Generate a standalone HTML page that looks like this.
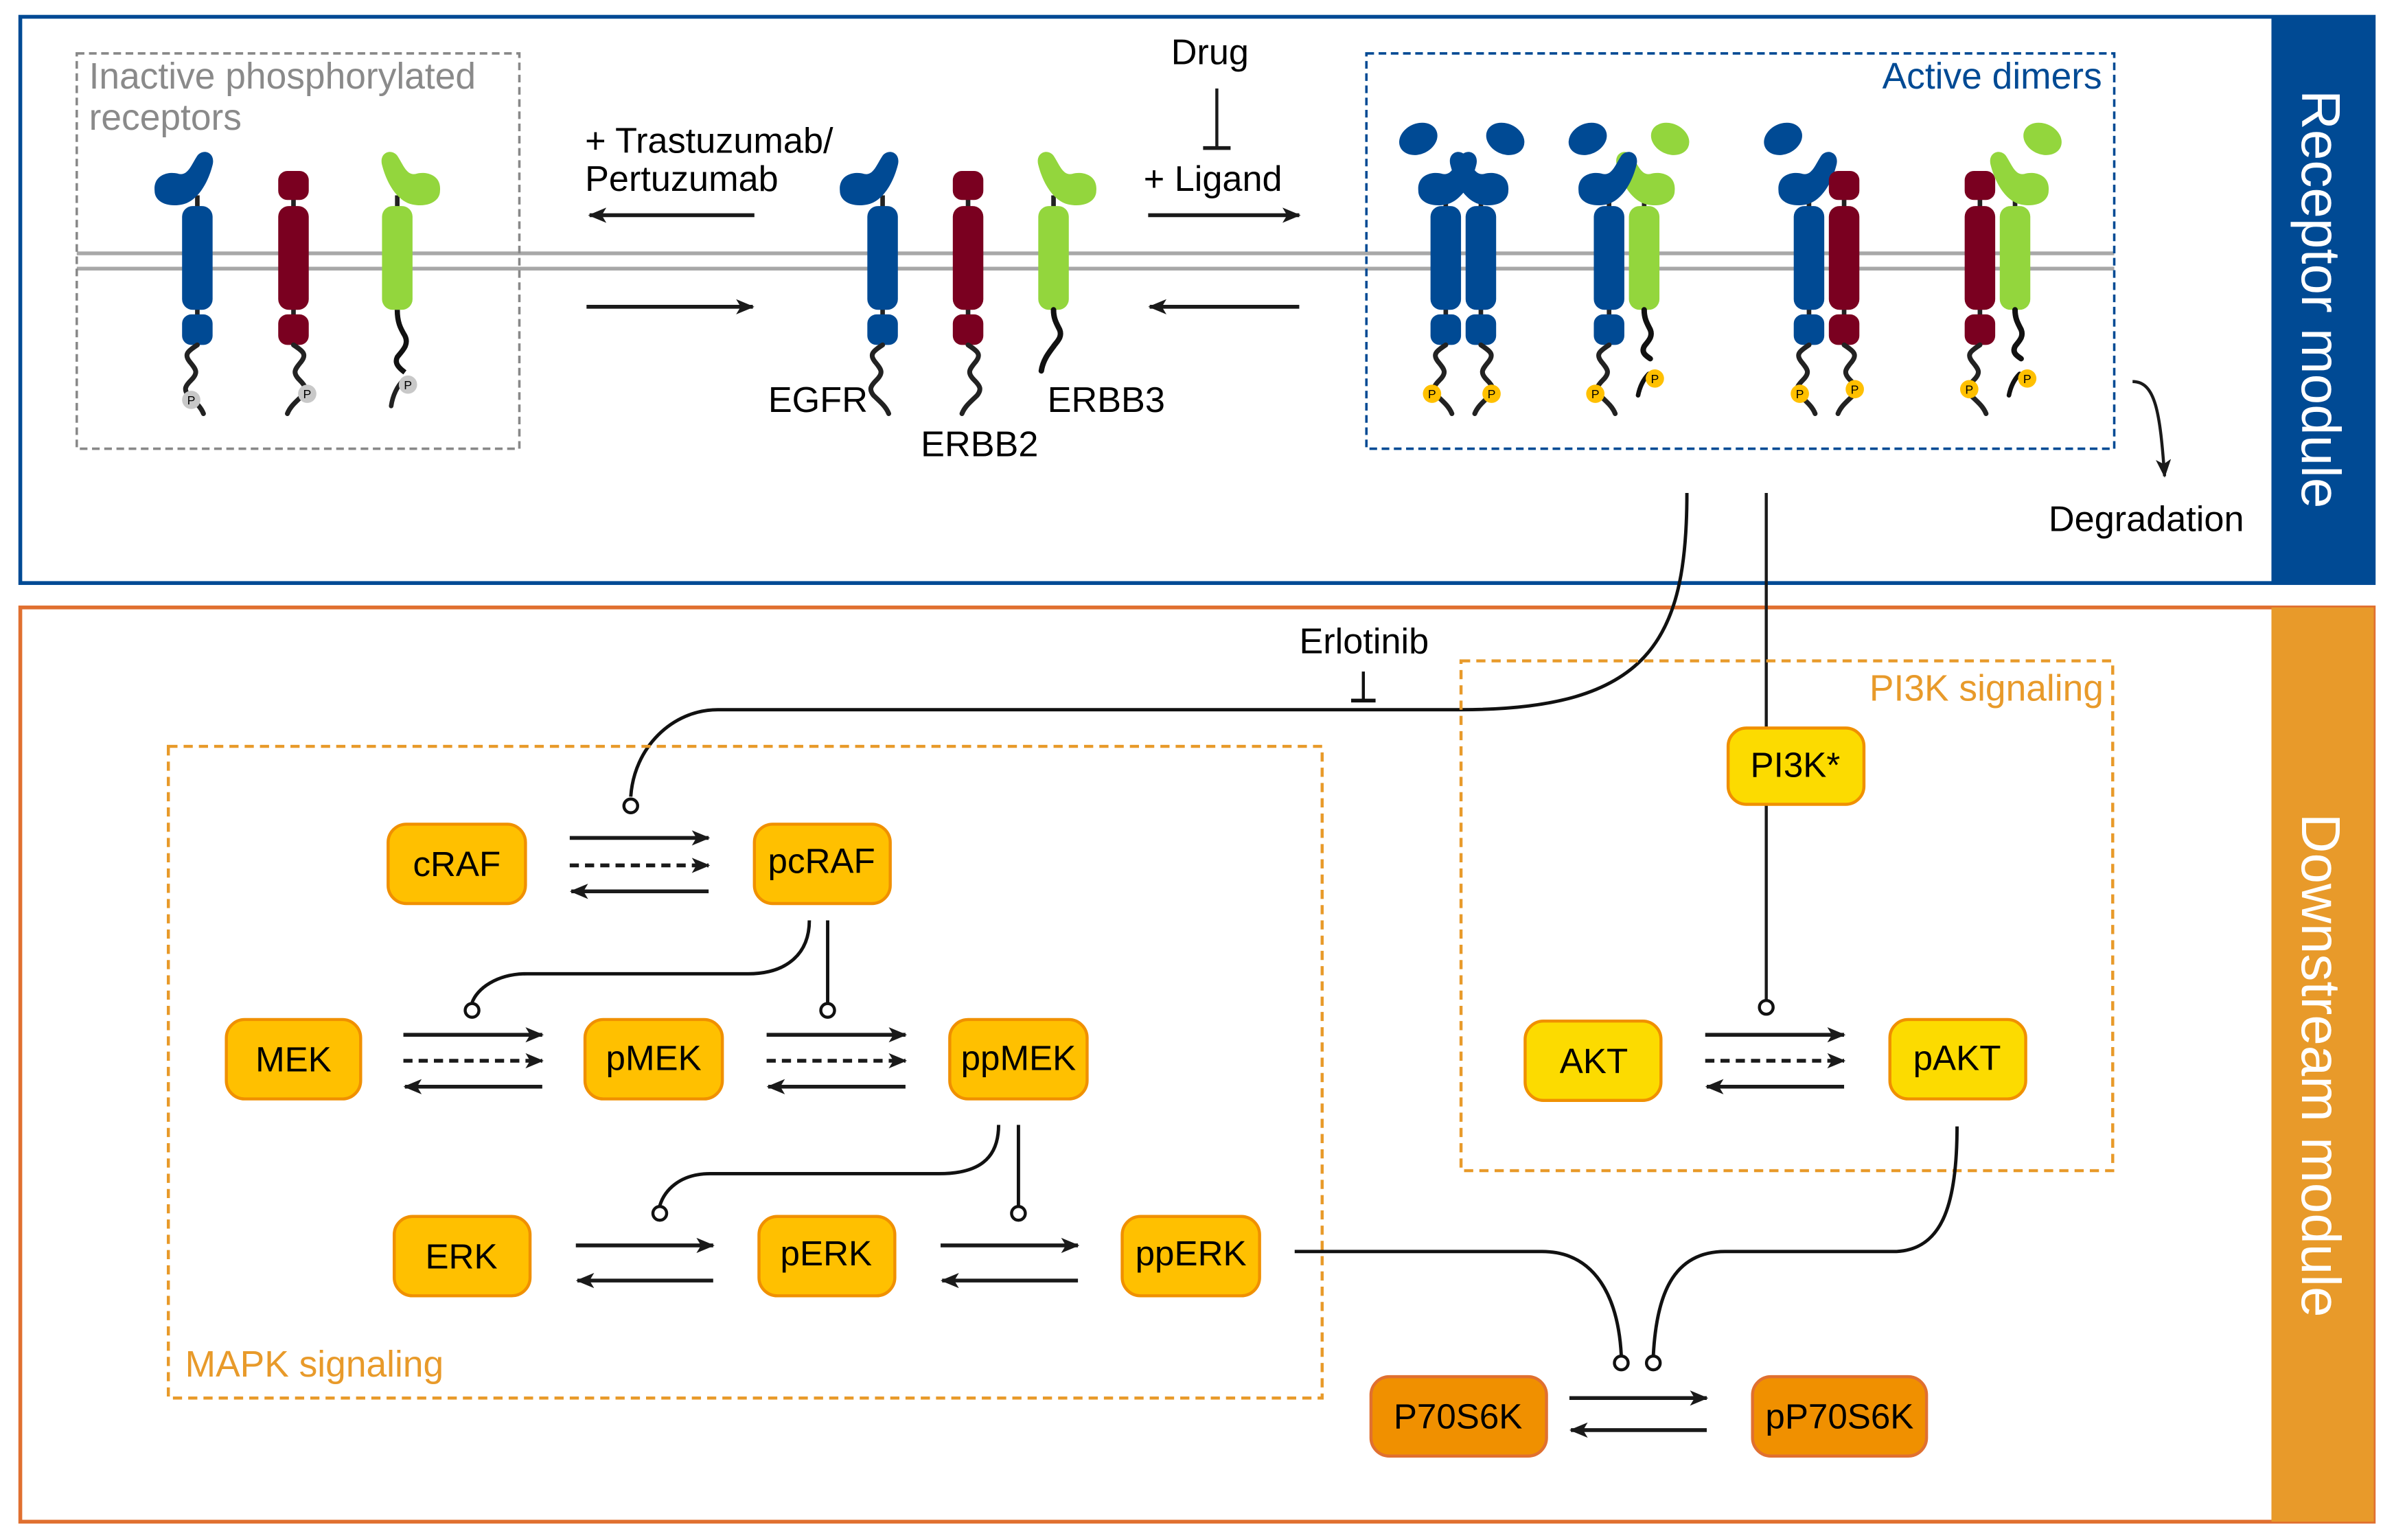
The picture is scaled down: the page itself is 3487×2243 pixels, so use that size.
<!DOCTYPE html>
<html><head><meta charset="utf-8"><style>
html,body{margin:0;padding:0;background:#fff;}
svg{display:block;}
text{font-family:"Liberation Sans",Arial,sans-serif;}
</style></head><body>
<svg width="3487" height="2243" viewBox="0 0 1568 1009" xmlns="http://www.w3.org/2000/svg">
<defs>
<marker id="ah" viewBox="0 0 12 10" refX="11" refY="5" markerWidth="12" markerHeight="10" markerUnits="userSpaceOnUse" orient="auto">
<path d="M0,0 L12,5 L0,10 L3,5 Z" fill="#1a1a1a"/></marker>
<path id="hookL" d="M-28,125 C-29,114 -18,112 -12,114 C-6,115 -4,108 0,102 C4,97 12,100 10,108 C7,120 0,132 -10,134 C-20,136 -28,132 -28,125 Z"/>
<path id="hookR" transform="scale(-1,1)" d="M-28,125 C-29,114 -18,112 -12,114 C-6,115 -4,108 0,102 C4,97 12,100 10,108 C7,120 0,132 -10,134 C-20,136 -28,132 -28,125 Z"/>
<g id="egfr">
 <line x1="0" y1="128" x2="0" y2="208" stroke="#222" stroke-width="3"/>
 <rect x="-10" y="135" width="20" height="68" rx="7" fill="#004a94"/>
 <rect x="-10" y="206" width="20" height="20" rx="6" fill="#004a94"/>
</g>
<g id="erbb2">
 <line x1="0" y1="125" x2="0" y2="208" stroke="#222" stroke-width="3"/>
 <rect x="-10" y="112" width="20" height="19" rx="6" fill="#7a0020"/>
 <rect x="-10" y="135" width="20" height="68" rx="7" fill="#7a0020"/>
 <rect x="-10" y="206" width="20" height="20" rx="6" fill="#7a0020"/>
</g>
<g id="erbb3">
 <line x1="0" y1="128" x2="0" y2="140" stroke="#222" stroke-width="3"/>
 <rect x="-10" y="135" width="20" height="68" rx="7" fill="#93d63d"/>
</g>
<path id="tailA" d="M0,226 c-6,4 -9,6 -5,11 c4,5 6,7 1,12 c-4,4 -5,6 -2,10 c4,4 8,7 10,12" fill="none" stroke="#222" stroke-width="3.2" stroke-linecap="round"/>
<path id="tailB" d="M0,226 c6,4 9,6 5,11 c-4,5 -6,7 -1,12 c4,4 5,6 2,10 c-4,4 -8,7 -10,12" fill="none" stroke="#222" stroke-width="3.2" stroke-linecap="round"/>
<path id="tail3" d="M0,203 c0,6 2,9 4,13 c2,5 -2,8 -4,11 c-2,4 1,6 4,8" fill="none" stroke="#111" stroke-width="3.6" stroke-linecap="round"/>
<path id="tail3m" d="M0,203 c0,6 2,9 4,13 c2,5 -2,8 -4,11 c-3,4 -7,9 -8,16" fill="none" stroke="#111" stroke-width="3.6" stroke-linecap="round"/>
</defs>

<!-- Receptor module -->
<rect x="13" y="11" width="1542" height="371" fill="#fff" stroke="#004a94" stroke-width="2.5"/>
<rect x="1488" y="11" width="67" height="371" fill="#004a94"/>
<text transform="translate(1508,196) rotate(90)" text-anchor="middle" font-size="36" fill="#fff">Receptor module</text>

<!-- Downstream module -->
<rect x="13" y="398" width="1542" height="599" fill="#fff" stroke="#e07030" stroke-width="2.5"/>
<rect x="1488" y="398" width="67" height="599" fill="#e89a2a"/>
<text transform="translate(1508,698) rotate(90)" text-anchor="middle" font-size="36" fill="#fff">Downstream module</text>

<!-- membrane -->
<line x1="50" y1="166" x2="1385" y2="166" stroke="#a8a8a8" stroke-width="2.5"/>
<line x1="50" y1="176" x2="1385" y2="176" stroke="#a8a8a8" stroke-width="2.5"/>

<!-- Inactive box -->
<rect x="50" y="35" width="290" height="259" fill="none" stroke="#888" stroke-width="1.6" stroke-dasharray="5,3"/>
<text x="58" y="58" font-size="24" fill="#8a8a8a">Inactive phosphorylated</text>
<text x="58" y="85" font-size="24" fill="#8a8a8a">receptors</text>

<g transform="translate(129,0)">
 <use href="#egfr"/><use href="#hookL" fill="#004a94"/><use href="#tailA"/>
 <circle cx="-4" cy="262" r="6" fill="#c8c8c8"/><text x="-4" y="265" font-size="8" text-anchor="middle">P</text>
</g>
<g transform="translate(192,0)">
 <use href="#erbb2"/><use href="#tailB"/>
 <circle cx="9" cy="258" r="6" fill="#c8c8c8"/><text x="9" y="261" font-size="8" text-anchor="middle">P</text>
</g>
<g transform="translate(260,0)">
 <use href="#erbb3"/><use href="#hookR" fill="#93d63d"/>
 <path d="M0,203 c0,8 2,12 5,17 c3,6 -2,10 -5,14 c-2,4 1,7 5,10" fill="none" stroke="#111" stroke-width="3.4"/>
 <path d="M4,249 c-4,4 -7,10 -8,17" fill="none" stroke="#222" stroke-width="3" stroke-linecap="round"/>
 <circle cx="7" cy="252" r="6" fill="#c8c8c8"/><text x="7" y="255" font-size="8" text-anchor="middle">P</text>
</g>

<!-- middle receptors -->
<g transform="translate(578,0)"><use href="#egfr"/><use href="#hookL" fill="#004a94"/><use href="#tailA"/></g>
<g transform="translate(634,0)"><use href="#erbb2"/><use href="#tailB"/></g>
<g transform="translate(690,0)"><use href="#erbb3"/><use href="#hookR" fill="#93d63d"/><use href="#tail3m"/></g>
<text x="503" y="270" font-size="23.5">EGFR</text>
<text x="603" y="299" font-size="23.5">ERBB2</text>
<text x="686" y="270" font-size="23.5">ERBB3</text>

<!-- arrows top -->
<text x="383" y="100" font-size="23.5">+ Trastuzumab/</text>
<text x="383" y="125" font-size="23.5">Pertuzumab</text>
<line x1="494" y1="141" x2="386" y2="141" stroke="#1a1a1a" stroke-width="2.5" marker-end="url(#ah)"/>
<line x1="384" y1="201" x2="493" y2="201" stroke="#1a1a1a" stroke-width="2.5" marker-end="url(#ah)"/>
<text x="767" y="42" font-size="23.5">Drug</text>
<line x1="797" y1="58" x2="797" y2="96" stroke="#1a1a1a" stroke-width="2"/>
<line x1="788" y1="97" x2="806" y2="97" stroke="#1a1a1a" stroke-width="2.5"/>
<text x="749" y="125" font-size="23.5">+ Ligand</text>
<line x1="752" y1="141" x2="851" y2="141" stroke="#1a1a1a" stroke-width="2.5" marker-end="url(#ah)"/>
<line x1="851" y1="201" x2="753" y2="201" stroke="#1a1a1a" stroke-width="2.5" marker-end="url(#ah)"/>

<!-- Active dimers -->
<rect x="895" y="35" width="490" height="259" fill="none" stroke="#004a94" stroke-width="1.6" stroke-dasharray="5,3"/>
<text x="1377" y="58" font-size="24" fill="#004a94" text-anchor="end">Active dimers</text>

<!-- dimer 1 EGFR/EGFR -->
<ellipse cx="929" cy="91" rx="13" ry="10" transform="rotate(-25 929 91)" fill="#004a94"/>
<ellipse cx="986" cy="91" rx="13" ry="10" transform="rotate(25 986 91)" fill="#004a94"/>
<g transform="translate(947,0)"><use href="#egfr"/><use href="#hookL" fill="#004a94" transform="translate(10,0)"/><use href="#tailA"/>
 <circle cx="-9" cy="258" r="6" fill="#ffc000"/><text x="-9" y="261" font-size="8" text-anchor="middle">P</text></g>
<g transform="translate(970,0)"><use href="#egfr"/><use href="#hookR" fill="#004a94" transform="translate(-10,0)"/><use href="#tailB"/>
 <circle cx="7" cy="258" r="6" fill="#ffc000"/><text x="7" y="261" font-size="8" text-anchor="middle">P</text></g>

<!-- dimer 2 EGFR/ERBB3 -->
<ellipse cx="1040" cy="91" rx="13" ry="10" transform="rotate(-25 1040 91)" fill="#004a94"/>
<ellipse cx="1094" cy="91" rx="13" ry="10" transform="rotate(25 1094 91)" fill="#93d63d"/>
<g transform="translate(1077,0)"><use href="#erbb3"/><use href="#hookR" fill="#93d63d" transform="translate(-8,0)"/><use href="#tail3"/>
 <path d="M3,245 c-4,4 -6,9 -7,14" fill="none" stroke="#111" stroke-width="3" stroke-linecap="round"/>
 <circle cx="7" cy="248" r="6" fill="#ffc000"/><text x="7" y="251" font-size="8" text-anchor="middle">P</text></g>
<g transform="translate(1054,0)"><use href="#egfr"/><use href="#hookL" fill="#004a94" transform="translate(8,0)"/><use href="#tailA"/>
 <circle cx="-9" cy="258" r="6" fill="#ffc000"/><text x="-9" y="261" font-size="8" text-anchor="middle">P</text></g>

<!-- dimer 3 EGFR/ERBB2 -->
<ellipse cx="1168" cy="91" rx="13" ry="10" transform="rotate(-25 1168 91)" fill="#004a94"/>
<g transform="translate(1185,0)"><use href="#egfr"/><use href="#hookL" fill="#004a94" transform="translate(8,0)"/><use href="#tailA"/>
 <circle cx="-6" cy="258" r="6" fill="#ffc000"/><text x="-6" y="261" font-size="8" text-anchor="middle">P</text></g>
<g transform="translate(1208,0)"><use href="#erbb2"/><use href="#tailB"/>
 <circle cx="7" cy="255" r="6" fill="#ffc000"/><text x="7" y="258" font-size="8" text-anchor="middle">P</text></g>

<!-- dimer 4 ERBB2/ERBB3 -->
<ellipse cx="1338" cy="91" rx="13" ry="10" transform="rotate(25 1338 91)" fill="#93d63d"/>
<g transform="translate(1297,0)"><use href="#erbb2"/><use href="#tailA"/>
 <circle cx="-7" cy="255" r="6" fill="#ffc000"/><text x="-7" y="258" font-size="8" text-anchor="middle">P</text></g>
<g transform="translate(1320,0)"><use href="#erbb3"/><use href="#hookR" fill="#93d63d" transform="translate(-6,0)"/><use href="#tail3"/>
 <path d="M3,245 c-4,4 -6,9 -7,14" fill="none" stroke="#111" stroke-width="3" stroke-linecap="round"/>
 <circle cx="8" cy="248" r="6" fill="#ffc000"/><text x="8" y="251" font-size="8" text-anchor="middle">P</text></g>

<!-- degradation -->
<path d="M1397,250 C1412,250 1415,270 1418,312" fill="none" stroke="#1a1a1a" stroke-width="2" marker-end="url(#ah)"/>
<text x="1342" y="348" font-size="23.5">Degradation</text>

<!-- lines from receptors -->
<path d="M1105,323 C1105,420 1080,465 957,465 L470,465 C440,465 415,490 413,522" fill="none" stroke="#111" stroke-width="2.2"/>
<circle cx="413" cy="528" r="4.5" fill="#fff" stroke="#111" stroke-width="2"/>
<text x="851" y="428" font-size="23.5">Erlotinib</text>
<line x1="893" y1="440" x2="893" y2="458" stroke="#111" stroke-width="2"/>
<line x1="885" y1="459" x2="901" y2="459" stroke="#111" stroke-width="2.5"/>
<line x1="1157" y1="323" x2="1157" y2="655" stroke="#1a1a1a" stroke-width="2"/>
<circle cx="1157" cy="660" r="4.5" fill="#fff" stroke="#111" stroke-width="2"/>

<!-- signaling boxes -->
<rect x="957" y="433" width="427" height="334" fill="none" stroke="#e89a2a" stroke-width="2" stroke-dasharray="6,4"/>
<text x="1378" y="459" font-size="24" fill="#e89a2a" text-anchor="end">PI3K signaling</text>
<rect x="110" y="489" width="756" height="427" fill="none" stroke="#e89a2a" stroke-width="2" stroke-dasharray="6,4"/>
<text x="121" y="902" font-size="24" fill="#e89a2a">MAPK signaling</text>

<!-- nodes -->
<g font-size="23" text-anchor="middle">
<rect x="254" y="540" width="90" height="52" rx="12" fill="#ffc000" stroke="#f09000" stroke-width="2"/><text x="299" y="574">cRAF</text>
<rect x="494" y="540" width="89" height="52" rx="12" fill="#ffc000" stroke="#f09000" stroke-width="2"/><text x="538" y="572">pcRAF</text>
<rect x="148" y="668" width="88" height="52" rx="12" fill="#ffc000" stroke="#f09000" stroke-width="2"/><text x="192" y="702">MEK</text>
<rect x="383" y="668" width="90" height="52" rx="12" fill="#ffc000" stroke="#f09000" stroke-width="2"/><text x="428" y="701">pMEK</text>
<rect x="622" y="668" width="90" height="52" rx="12" fill="#ffc000" stroke="#f09000" stroke-width="2"/><text x="667" y="701">ppMEK</text>
<rect x="258" y="797" width="89" height="52" rx="12" fill="#ffc000" stroke="#f09000" stroke-width="2"/><text x="302" y="831">ERK</text>
<rect x="497" y="797" width="89" height="52" rx="12" fill="#ffc000" stroke="#f09000" stroke-width="2"/><text x="541" y="829">pERK</text>
<rect x="735" y="797" width="90" height="52" rx="12" fill="#ffc000" stroke="#f09000" stroke-width="2"/><text x="780" y="829">ppERK</text>
<rect x="1132" y="477" width="89" height="50" rx="12" fill="#fcdb00" stroke="#f09000" stroke-width="2"/><text x="1176" y="509">PI3K*</text>
<rect x="999" y="669" width="89" height="52" rx="12" fill="#fcdb00" stroke="#f09000" stroke-width="2"/><text x="1044" y="703">AKT</text>
<rect x="1238" y="668" width="89" height="52" rx="12" fill="#fcdb00" stroke="#f09000" stroke-width="2"/><text x="1282" y="701">pAKT</text>
<rect x="898" y="902" width="115" height="52" rx="12" fill="#f09000" stroke="#e07030" stroke-width="2"/><text x="955" y="936">P70S6K</text>
<rect x="1148" y="902" width="114" height="52" rx="12" fill="#f09000" stroke="#e07030" stroke-width="2"/><text x="1205" y="936">pP70S6K</text>
</g>

<!-- reaction arrows -->
<g stroke="#1a1a1a" stroke-width="2.5" fill="none">
<line x1="373" y1="549" x2="464" y2="549" marker-end="url(#ah)"/>
<line x1="373" y1="567" x2="464" y2="567" stroke-dasharray="6,4" marker-end="url(#ah)"/>
<line x1="464" y1="584" x2="374" y2="584" marker-end="url(#ah)"/>
<line x1="264" y1="678" x2="355" y2="678" marker-end="url(#ah)"/>
<line x1="264" y1="695" x2="355" y2="695" stroke-dasharray="6,4" marker-end="url(#ah)"/>
<line x1="355" y1="712" x2="265" y2="712" marker-end="url(#ah)"/>
<line x1="502" y1="678" x2="593" y2="678" marker-end="url(#ah)"/>
<line x1="502" y1="695" x2="593" y2="695" stroke-dasharray="6,4" marker-end="url(#ah)"/>
<line x1="593" y1="712" x2="503" y2="712" marker-end="url(#ah)"/>
<line x1="1117" y1="678" x2="1208" y2="678" marker-end="url(#ah)"/>
<line x1="1117" y1="695" x2="1208" y2="695" stroke-dasharray="6,4" marker-end="url(#ah)"/>
<line x1="1208" y1="712" x2="1118" y2="712" marker-end="url(#ah)"/>
<line x1="377" y1="816" x2="467" y2="816" marker-end="url(#ah)"/>
<line x1="467" y1="839" x2="378" y2="839" marker-end="url(#ah)"/>
<line x1="616" y1="816" x2="706" y2="816" marker-end="url(#ah)"/>
<line x1="706" y1="839" x2="617" y2="839" marker-end="url(#ah)"/>
<line x1="1028" y1="916" x2="1118" y2="916" marker-end="url(#ah)"/>
<line x1="1118" y1="937" x2="1029" y2="937" marker-end="url(#ah)"/>
</g>

<!-- modifier lines -->
<g stroke="#111" stroke-width="2.2" fill="none">
<path d="M530,603 C530,625 515,638 490,638 L345,638 C325,638 312,648 309,657"/>
<line x1="542" y1="603" x2="542" y2="657"/>
<path d="M654,737 C654,760 640,769 615,769 L465,769 C445,769 435,780 432,790"/>
<line x1="667" y1="737" x2="667" y2="790"/>
<path d="M848,820 L1010,820 C1045,820 1060,850 1062,888"/>
<path d="M1282,738 C1282,790 1272,820 1240,820 L1130,820 C1095,820 1085,850 1083,888"/>
</g>
<g fill="#fff" stroke="#111" stroke-width="2">
<circle cx="309" cy="662" r="4.5"/><circle cx="542" cy="662" r="4.5"/>
<circle cx="432" cy="795" r="4.5"/><circle cx="667" cy="795" r="4.5"/>
<circle cx="1062" cy="893" r="4.5"/><circle cx="1083" cy="893" r="4.5"/>
</g>
</svg>
</body></html>
